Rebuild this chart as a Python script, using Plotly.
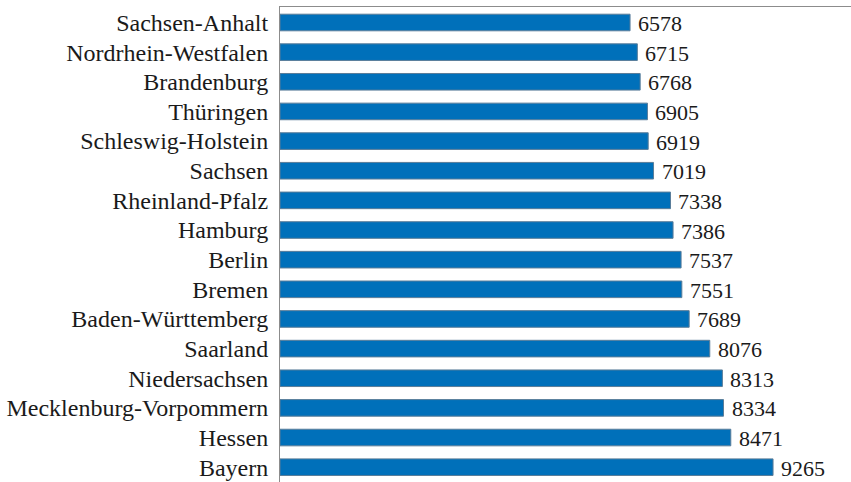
import plotly.graph_objects as go

states = ["Sachsen-Anhalt", "Nordrhein-Westfalen", "Brandenburg", "Thüringen",
          "Schleswig-Holstein", "Sachsen", "Rheinland-Pfalz", "Hamburg", "Berlin",
          "Bremen", "Baden-Württemberg", "Saarland", "Niedersachsen",
          "Mecklenburg-Vorpommern", "Hessen", "Bayern"]
values = [6578, 6715, 6768, 6905, 6919, 7019, 7338, 7386, 7537, 7551, 7689,
          8076, 8313, 8334, 8471, 9265]

fig = go.Figure(go.Bar(
    y=states, x=values, orientation="h",
    marker=dict(color="#0070BA", line=dict(color="#5a7d99", width=1)),
    width=0.56,
    hoverinfo="skip",
))

for s, v in zip(states, values):
    fig.add_annotation(x=v, y=s, text=str(v), showarrow=False, xanchor="left",
                       xshift=6, yshift=-1,
                       font=dict(family="Liberation Serif", size=22, color="#1a1a1a"))

fig.update_layout(
    width=851, height=482,
    margin=dict(l=280, r=0, t=7, b=0, autoexpand=False),
    paper_bgcolor="white", plot_bgcolor="white",
    showlegend=False,
    font=dict(family="Liberation Serif", size=22, color="#1a1a1a"),
)
fig.update_xaxes(range=[0, 10730], side="top", showline=True, linecolor="#8c8c8c",
                 linewidth=1, showgrid=False, zeroline=False, showticklabels=False,
                 ticks="", automargin=False)
fig.update_yaxes(autorange="reversed", showline=True, linecolor="#8c8c8c", linewidth=1,
                 showgrid=False, zeroline=False, ticks="", ticklabelstandoff=6,
                 automargin=False,
                 tickfont=dict(family="Liberation Serif", size=24, color="#1a1a1a"))

fig.write_html("out.html", config={"displayModeBar": False},
               post_script="document.body.style.margin='0';document.body.style.overflow='hidden';")
